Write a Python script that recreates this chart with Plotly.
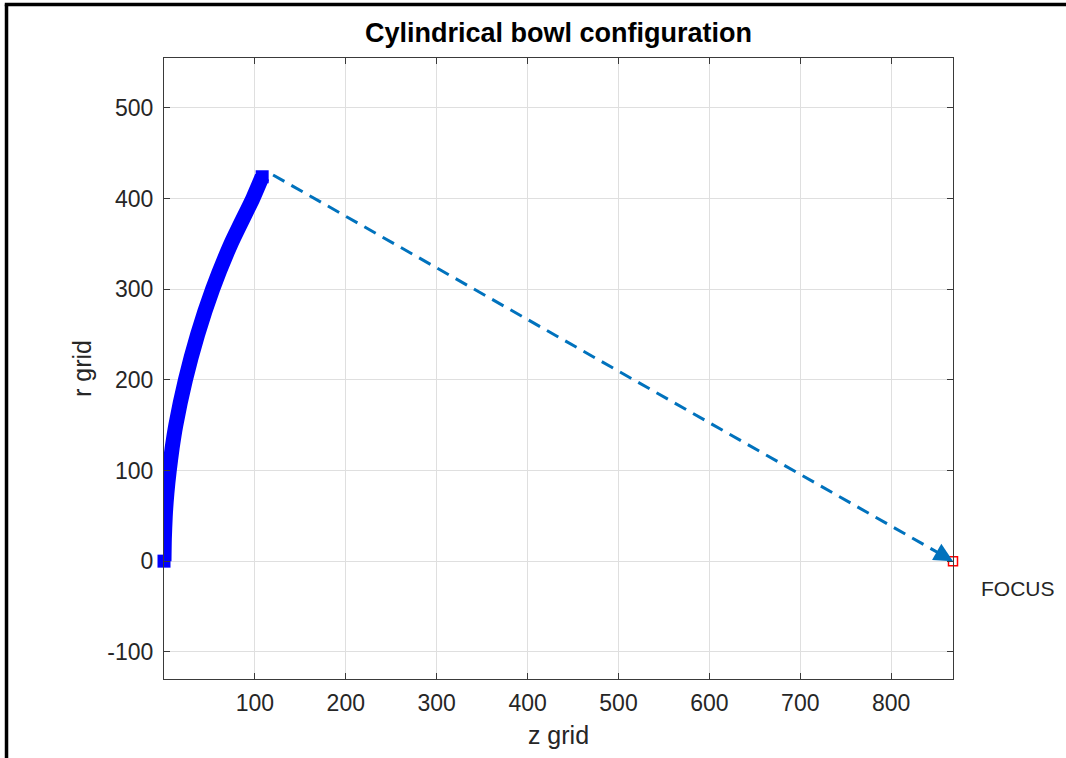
import numpy as np
import plotly.graph_objects as go

# Bowl surface points (z, r)
bowl_z = [0, 0.4, 1.4, 3.2, 5.8, 9.0, 13, 23.6, 37, 53.5, 73.6, 97.7, 108]
bowl_r = [0, 25, 50, 75, 100, 125, 150, 200, 250, 300, 350, 400, 424]

# Ray from bowl edge to the focus
ray_z = [120, 868]
ray_r = [426, 0]

focus_z = [868]
focus_r = [0]

x_ticks = [100, 200, 300, 400, 500, 600, 700, 800]
x_labels = ["100", "200", "300", "400", "500", "600", "700", "800"]
y_ticks = [-100, 0, 100, 200, 300, 400, 500]
y_labels = ["-100", "0", "100", "200", "300", "400", "500"]
x_range = [0, 868]
y_range = [-130, 555]

BLUE = "#0000FF"
MBLUE = "#0072BD"
TXT = "#262626"
FONT = "Liberation Sans, Arial, Helvetica, sans-serif"

fig = go.Figure()

fig.add_trace(go.Scatter(
    x=bowl_z, y=bowl_r, mode="lines",
    line=dict(color=BLUE, width=15, shape="spline", smoothing=0.6),
    cliponaxis=False, showlegend=False, hoverinfo="skip"))
fig.add_trace(go.Scatter(
    x=[bowl_z[0], bowl_z[-1]], y=[bowl_r[0], bowl_r[-1]], mode="markers",
    marker=dict(symbol="square", size=13, color=BLUE, line=dict(width=0)),
    cliponaxis=False, showlegend=False, hoverinfo="skip"))

# dashed ray, stopping short of the arrow head
dz = ray_z[1] - ray_z[0]
dr = ray_r[1] - ray_r[0]
fig.add_trace(go.Scatter(
    x=[ray_z[0], ray_z[0] + 0.985 * dz], y=[ray_r[0], ray_r[0] + 0.985 * dr],
    mode="lines", line=dict(color=MBLUE, width=3, dash="13px,8px"),
    showlegend=False, hoverinfo="skip"))

fig.add_trace(go.Scatter(
    x=focus_z, y=focus_r, mode="markers",
    marker=dict(symbol="square-open", size=9, color="red", line=dict(width=1.5, color="red")),
    cliponaxis=False, showlegend=False, hoverinfo="skip"))

# arrow head direction in pixels
px_per_x = 789 / (x_range[1] - x_range[0])
px_per_y = 621 / (y_range[1] - y_range[0])
vx = -dz * px_per_x
vy = dr * px_per_y
L = np.hypot(vx, vy)
hl = 16
fig.add_annotation(
    x=ray_z[1], y=ray_r[1], xref="x", yref="y",
    ax=vx / L * hl, ay=vy / L * hl, axref="pixel", ayref="pixel",
    showarrow=True, arrowhead=2, arrowsize=1.25, arrowwidth=3,
    arrowcolor=MBLUE, standoff=0, text="")

fig.add_annotation(
    x=(979 - 164) / 789, y=(679 - 588) / 621, xref="paper", yref="paper",
    text="FOCUS", showarrow=False,
    xanchor="left", yanchor="middle", font=dict(family=FONT, size=21, color=TXT))

# outer black border (left and top)
fig.add_shape(type="line", xref="paper", yref="paper",
              x0=-0.1996, x1=-0.1996, y0=1.0862, y1=-0.2, line=dict(color="black", width=3.5))
fig.add_shape(type="line", xref="paper", yref="paper",
              x0=-0.2018, x1=1.2, y0=1.0862, y1=1.0862, line=dict(color="black", width=3.5))

axis_common = dict(
    showgrid=True, gridcolor="#DFDFDF", gridwidth=1,
    zeroline=False, showline=True, linecolor="#3A3A3A", linewidth=1.2,
    mirror="ticks", ticks="inside", ticklen=6, tickcolor="#3A3A3A",
    tickfont=dict(family=FONT, size=23, color=TXT),
)

fig.update_layout(
    width=1066, height=758,
    margin=dict(l=164, r=113, t=58, b=79),
    paper_bgcolor="white", plot_bgcolor="white",
    title=dict(text="<b>Cylindrical bowl configuration</b>", x=(164 + 953) / 2 / 1066,
               xanchor="center", y=1 - 33 / 758, yanchor="middle",
               font=dict(family=FONT, size=27, color="black")),
    xaxis=dict(range=x_range, tickvals=x_ticks, ticktext=x_labels, ticklabelstandoff=3,
               **axis_common,
               title=dict(text="z grid", font=dict(family=FONT, size=25, color=TXT), standoff=11)),
    yaxis=dict(range=y_range, tickvals=y_ticks, ticktext=y_labels, ticklabelstandoff=5,
               **axis_common,
               title=dict(text="r grid", font=dict(family=FONT, size=25, color=TXT), standoff=8)),
)

fig.write_html("out.html")
